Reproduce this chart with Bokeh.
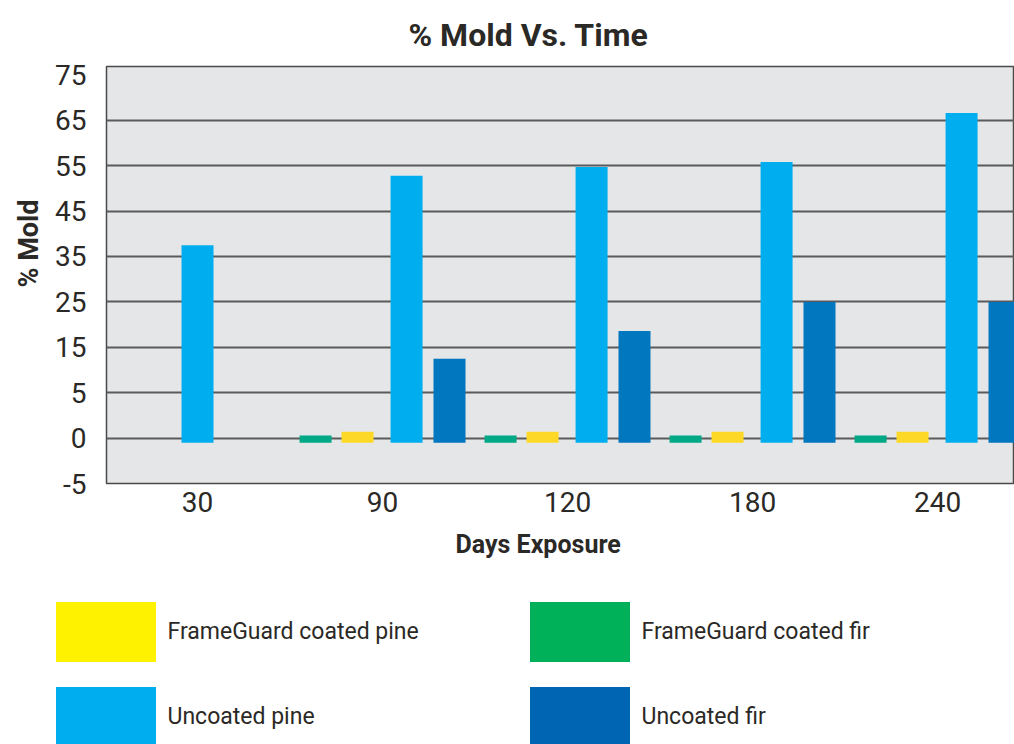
import numpy as np
from bokeh.plotting import figure
from bokeh.layouts import column, row
from bokeh.models import FixedTicker, Legend, LegendItem, Title, Range1d, ColumnDataSource
from bokeh.embed import file_html
from bokeh.resources import INLINE

# ---------------- data ----------------
days = ["30", "90", "120", "180", "240"]
coated_fir = [np.nan, 0.3, 0.3, 0.3, 0.3]          # FrameGuard coated fir
coated_pine = [np.nan, 0.7, 0.7, 0.7, 0.7]         # FrameGuard coated pine
uncoated_pine = [37.5, 52.8, 54.7, 55.8, 66.6]     # Uncoated pine
uncoated_fir = [np.nan, 12.5, 18.6, 25.0, 25.0]    # Uncoated fir
bar_base = -0.5                                    # bars start just below 0

# tick labels of the value axis (drawn at equal spacing in the original)
y_tick_labels = [-5, 0, 5, 15, 25, 35, 45, 55, 65, 75]
grid_labels = [0, 5, 15, 25, 35, 45, 55, 65]

series_names = {"pine_c": "FrameGuard coated pine", "fir_c": "FrameGuard coated fir",
                "pine_u": "Uncoated pine", "fir_u": "Uncoated fir"}

# ---------------- styling ----------------
FONT = "Roboto"
TXT = "#2b2926"
bar_colors = {"fir_c": "#00a886", "pine_c": "#fdd826", "pine_u": "#00aeef", "fir_u": "#0077be"}
leg_colors = {"fir_c": "#00b159", "pine_c": "#fff200", "pine_u": "#00aeef", "fir_u": "#0066b3"}
offsets = {"fir_c": -0.362, "pine_c": -0.135, "pine_u": 0.130, "fir_u": 0.362}
bar_w = 0.173

# value axis: equally spaced tick slots, values mapped piecewise between labels
slots = [10 * i - 10 for i in range(len(y_tick_labels))]
def to_axis(v):
    return float(np.interp(v, y_tick_labels, slots))

series = [("fir_c", coated_fir), ("pine_c", coated_pine),
          ("pine_u", uncoated_pine), ("fir_u", uncoated_fir)]

p = figure(width=1014, height=590, output_backend="svg", toolbar_location=None,
           x_range=Range1d(-0.492, 4.416), y_range=Range1d(-10, 81.85),
           min_border_left=106, min_border_right=0, min_border_top=66, min_border_bottom=107,
           background_fill_color="#e5e6e8", border_fill_color="white")
p.outline_line_color = "#4a4a4a"
p.outline_line_width = 1.5

for key, vals in series:
    xs, tops, bots = [], [], []
    for gi, v in enumerate(vals):
        if np.isnan(v):
            continue
        n_in_group = sum(0 if np.isnan(s[1][gi]) else 1 for s in series)
        off = offsets[key] if n_in_group > 1 else 0.0
        xs.append(gi + off)
        tops.append(to_axis(v))
        bots.append(to_axis(bar_base))
    src = ColumnDataSource(dict(x=xs, top=tops, bottom=bots))
    p.vbar(x="x", top="top", bottom="bottom", width=bar_w, source=src,
           fill_color=bar_colors[key], line_color=None)

# axes
p.xaxis.ticker = FixedTicker(ticks=list(range(len(days))))
p.xaxis.major_label_overrides = {i: d for i, d in enumerate(days)}
p.yaxis.ticker = FixedTicker(ticks=slots)
p.yaxis.major_label_overrides = {s: str(l) for s, l in zip(slots, y_tick_labels)}
for ax in (p.xaxis, p.yaxis):
    ax.axis_line_color = None
    ax.major_tick_line_color = None
    ax.minor_tick_line_color = None
    ax.major_label_text_font = FONT
    ax.major_label_text_font_size = "28px"
    ax.major_label_text_color = TXT
p.xaxis.major_label_standoff = 2
p.yaxis.major_label_standoff = 14

p.xgrid.grid_line_color = None
p.ygrid.ticker = FixedTicker(ticks=[to_axis(v) for v in grid_labels])
p.ygrid.grid_line_color = "#5a5a5a"
p.ygrid.grid_line_width = 2

# titles
p.title = Title(text="% Mold Vs. Time", align="left", offset=302, standoff=25,
                text_font=FONT, text_font_size="32px", text_font_style="bold", text_color=TXT)
p.add_layout(Title(text="Days Exposure", align="left", offset=349, standoff=27,
                   text_font=FONT, text_font_size="25px", text_font_style="bold",
                   text_color=TXT), "below")
p.add_layout(Title(text="% Mold", align="left", offset=196, standoff=16,
                   text_font=FONT, text_font_size="27px", text_font_style="bold",
                   text_color=TXT), "left")

# legend in its own strip below the chart
lf = figure(width=1014, height=154, output_backend="svg", toolbar_location=None,
            x_range=Range1d(0, 1), y_range=Range1d(0, 1),
            min_border=0, min_border_left=0, min_border_right=0,
            min_border_top=0, min_border_bottom=0)
lf.axis.visible = False
lf.grid.visible = False
lf.outline_line_color = None
# legend-only renderers, kept outside the visible range of this strip
lr = {k: lf.vbar(x=[-10], top=[-10], bottom=[-11], width=0.1,
                 fill_color=leg_colors[k], line_color=None)
      for k in series_names}
order = ["pine_c", "pine_u", "fir_c", "fir_u"]
items = [LegendItem(label=series_names[k], renderers=[lr[k]]) for k in order]
legend = Legend(items=items, location=(42.5, -9.5), orientation="vertical", ncols=2,
                glyph_width=125, glyph_height=75, label_standoff=0, label_width=339,
                spacing=10, padding=0, margin=0, border_line_alpha=0,
                background_fill_alpha=0, label_text_font=FONT,
                label_text_font_size="23px", label_text_color=TXT)
lf.add_layout(legend)

open("out.html", "w").write(file_html(column(p, row(lf, spacing=0), spacing=0), INLINE))
